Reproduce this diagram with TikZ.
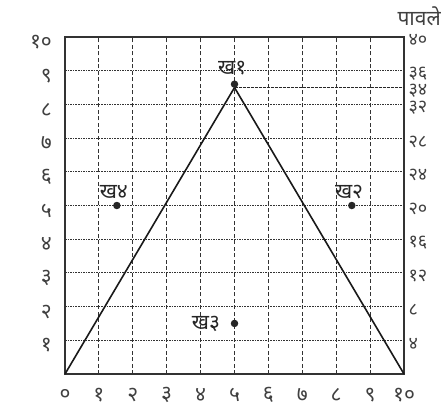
\documentclass[tikz,border=0pt]{standalone}
\usepackage{fontspec}
\newfontfamily\deva[Script=Devanagari]{Noto Sans}
\begin{document}
\begin{tikzpicture}[x=1pt,y=1pt,
  lab/.style={font=\deva\fontsize{21}{21}\selectfont, inner sep=0pt, text=black!75},
  rlab/.style={font=\deva\fontsize{18}{18}\selectfont, inner sep=0pt, text=black!75},
  plab/.style={font=\deva\fontsize{21}{21}\selectfont, inner sep=0pt, text=black!85},
  dotpt/.style={circle, fill=black!85, minimum size=7.5pt, inner sep=0pt},
  vgrid/.style={black!80, line width=1pt, dash pattern=on 4pt off 2.5pt},
  hgrid/.style={black!80, line width=1pt, dash pattern=on 1.6pt off 1pt},
  frame/.style={black!80, line width=2pt},
  graphline/.style={black!90, line width=1.6pt},
  levelline/.style={black!85, line width=0.7pt, dash pattern=on 3pt off 1pt}]
\useasboundingbox (0,0) rectangle (441,410);
\node[lab, anchor=east, font=\deva\fontsize{21}{21}\selectfont] (steps) at (441,394) {पावले};
\begin{scope}[shift={(65pt,36pt)}, x=33.9pt, y=33.7pt]
 \foreach \i in {1,...,9} {
   \draw[vgrid] (\i,0) -- (\i,10);
   \draw[hgrid] (0,\i) -- (10,\i);
 }
 \draw[frame] (0,0) rectangle (10,10);
 % left labels
 \foreach \i/\t in {1/१,2/२,3/३,4/४,5/५,6/६,7/७,8/८,9/९,10/१०}
   \node[lab, anchor=east] (l\i) at (-0.38,\i-0.15) {\t};
 % bottom labels
 \foreach \i/\t in {0/०,1/१,2/२,3/३,4/४,5/५,6/६,7/७,8/८,9/९,10/१०}
   \node[lab] (b\i) at (\i,-0.62) {\t};
 % right labels
 \foreach \v/\t in {1/४,2/८,3/१२,4/१६,5/२०,6/२४,7/२८,8/३२,8.5/३४,9/३६,10/४०}
   \node[rlab, anchor=west] (r\t) at (10.13,\v-0.1) {\t};
 % graph
 \coordinate (o) at (0,0);
 \coordinate (pk) at (5,8.5);
 \coordinate (e) at (10,0);
 \coordinate (lv) at (10,8.5);
 \draw[levelline] (pk) -- (lv);
 \draw[graphline] (o) -- (pk) -- (e);
 % points
 \node[dotpt] (k1) at (5,8.6) {};
 \node[dotpt] (k2) at (8.46,5) {};
 \node[dotpt] (k3) at (5,1.5) {};
 \node[dotpt] (k4) at (1.53,5) {};
 \node[plab] (t1) at (4.93,9.08) {ख१};
 \node[plab] (t2) at (8.38,5.4) {ख२};
 \node[plab] (t3) at (4.16,1.5) {ख३};
 \node[plab] (t4) at (1.44,5.4) {ख४};
\end{scope}
\end{tikzpicture}
\end{document}
